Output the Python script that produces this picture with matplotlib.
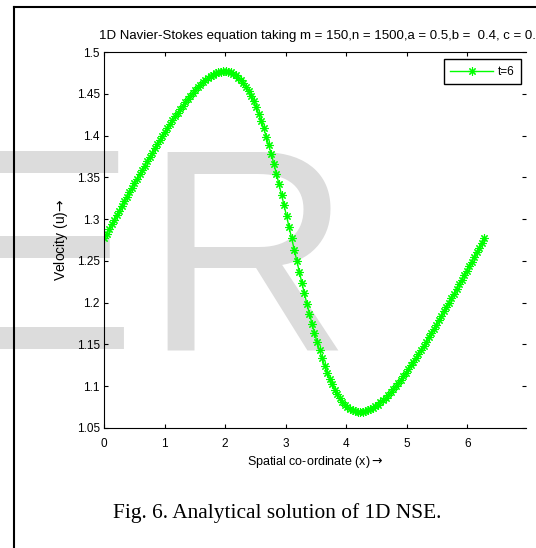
import numpy as np
import matplotlib
matplotlib.use('Agg')
import matplotlib.pyplot as plt
from matplotlib.lines import Line2D

# grid: m = 150 intervals over [0, 2*pi]
x_start, x_end, n_pts = 0.0, 2 * np.pi, 151

# velocity at every grid point
velocity = [
    1.2770, 1.2825, 1.2881, 1.2936, 1.2992, 1.3046, 1.3101, 1.3156, 1.3211, 1.3266,
    1.3321, 1.3375, 1.3428, 1.3482, 1.3535, 1.3588, 1.3641, 1.3694, 1.3745, 1.3796,
    1.3848, 1.3898, 1.3947, 1.3996, 1.4045, 1.4092, 1.4139, 1.4185, 1.4230, 1.4274,
    1.4318, 1.4359, 1.4400, 1.4440, 1.4477, 1.4513, 1.4548, 1.4579, 1.4610, 1.4639,
    1.4665, 1.4690, 1.4710, 1.4728, 1.4744, 1.4755, 1.4765, 1.4767, 1.4769, 1.4763,
    1.4755, 1.4739, 1.4721, 1.4694, 1.4665, 1.4625, 1.4584, 1.4531, 1.4475, 1.4410,
    1.4338, 1.4261, 1.4175, 1.4085, 1.3987, 1.3883, 1.3775, 1.3660, 1.3541, 1.3419,
    1.3292, 1.3164, 1.3034, 1.2901, 1.2768, 1.2634, 1.2501, 1.2370, 1.2240, 1.2113,
    1.1987, 1.1867, 1.1750, 1.1637, 1.1531, 1.1430, 1.1334, 1.1247, 1.1164, 1.1089,
    1.1022, 1.0958, 1.0906, 1.0856, 1.0817, 1.0781, 1.0754, 1.0730, 1.0714, 1.0701,
    1.0695, 1.0691, 1.0695, 1.0698, 1.0710, 1.0722, 1.0740, 1.0759, 1.0780, 1.0806,
    1.0832, 1.0862, 1.0894, 1.0926, 1.0963, 1.1000, 1.1037, 1.1078, 1.1119, 1.1160,
    1.1205, 1.1249, 1.1294, 1.1341, 1.1388, 1.1435, 1.1485, 1.1535, 1.1584, 1.1635,
    1.1686, 1.1737, 1.1789, 1.1842, 1.1895, 1.1948, 1.2001, 1.2055, 1.2109, 1.2163,
    1.2218, 1.2272, 1.2327, 1.2382, 1.2437, 1.2492, 1.2548, 1.2603, 1.2658, 1.2714,
    1.2770,
]
x = np.linspace(x_start, x_end, n_pts)

xticks = [0, 1, 2, 3, 4, 5, 6]
yticks = [1.05, 1.1, 1.15, 1.2, 1.25, 1.3, 1.35, 1.4, 1.45, 1.5]
ytick_labels = ['1.05', '1.1', '1.15', '1.2', '1.25', '1.3', '1.35', '1.4', '1.45', '1.5']

title_text = '1D Navier-Stokes equation taking m = 150,n = 1500,a = 0.5,b =  0.4, c = 0.2'
legend_label = 't=6'
xlabel_text = r'Spatial co-ordinate (x)$\rightarrow$'
ylabel_text = r'Velocity (u)$\!\rightarrow$'
caption_text = 'Fig. 6. Analytical solution of 1D NSE.'

plt.rcParams['font.family'] = ['Liberation Sans', 'DejaVu Sans']

W, H = 536, 548
fig = plt.figure(figsize=(W / 100, H / 100), dpi=100)

# watermark behind everything (journal stamp, only "ER" is on the page)
fig.text(137 / W, 1 - 349 / H, 'IJSE', fontsize=207, color='#dcdcdc',
         ha='right', va='baseline', zorder=-5)
fig.text(351 / W, 1 - 349 / H, 'R', fontsize=207, color='#dcdcdc',
         ha='right', va='baseline', zorder=-5)

# page frame (left and top edges)
fig.add_artist(Line2D([13.5 / W, 13.5 / W], [0, 1 - 7 / H], color='black', lw=1.5))
fig.add_artist(Line2D([13.5 / W, 1], [1 - 7 / H, 1 - 7 / H], color='black', lw=1.5))

ax = fig.add_axes([104 / W, 1 - 428 / H, 422 / W, 376 / H])
ax.set_facecolor('none')

ax.plot(x, velocity, color='#00ff00', lw=1.0, marker=(8, 2, 0), ms=6, mew=0.8,
        label=legend_label)

ax.set_xlim(0, 6.97)
ax.set_ylim(1.05, 1.5)
ax.set_xticks(xticks)
ax.set_yticks(yticks)
ax.set_yticklabels(ytick_labels)
ax.tick_params(direction='in', top=True, right=True, length=3, width=0.8, labelsize=8.5)
ax.tick_params(axis='x', pad=7)
ax.tick_params(axis='y', pad=3)
ax.spines['right'].set_visible(False)
for s in ['left', 'top', 'bottom']:
    ax.spines[s].set_linewidth(0.8)

ax.set_xlabel(xlabel_text, fontsize=9, labelpad=3)
ax.set_ylabel(ylabel_text, fontsize=10, labelpad=5)

leg = ax.legend(loc='upper right', bbox_to_anchor=(0.988, 0.981), borderaxespad=0,
                fancybox=False, edgecolor='black', framealpha=1, fontsize=8.5,
                handlelength=3.6, handletextpad=0.4, borderpad=0.55)
leg.get_frame().set_linewidth(1.0)

fig.text(99 / W, 1 - 36 / H, title_text, fontsize=9.5, ha='left', va='center')
fig.text(277 / W, 1 - 518 / H, caption_text, family='Liberation Serif', fontsize=15.4,
         ha='center', va='baseline')

fig.savefig('out.png', dpi=100)
